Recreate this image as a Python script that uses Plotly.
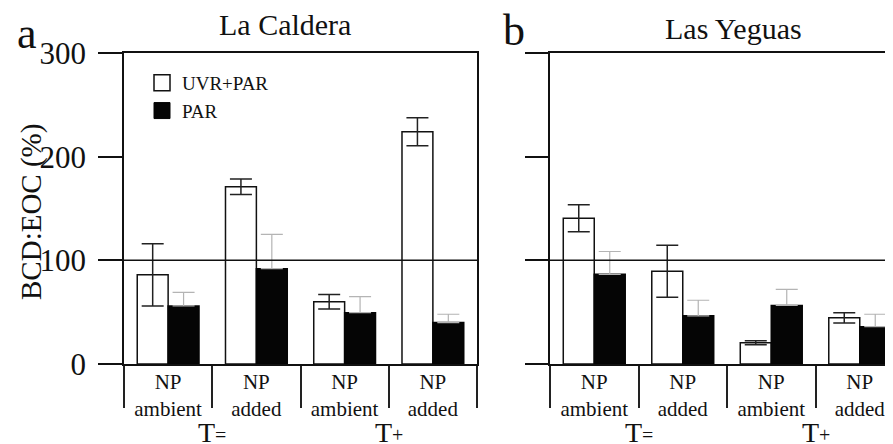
import plotly.graph_objects as go

# ---- data ----
categories = ["NP<br>ambient", "NP<br>added", "NP<br>ambient", "NP<br>added"]
cat_pos = [0, 1, 2, 3]
group_labels = ["T<span style=\"font-size:20px\">=</span>", "T<span style=\"font-size:20px\">+</span>"]
group_pos = [0.5, 2.5]
y_ticks = [0, 100, 200, 300]
series_names = ["UVR+PAR", "PAR"]

caldera_uvr = [86, 171, 60, 224]
caldera_uvr_err = [30, 7.5, 7, 13.5]
caldera_par = [56, 92, 49.5, 40]
caldera_par_err = [13, 33, 15.5, 8]

yeguas_uvr = [140.5, 89.5, 20.5, 44.5]
yeguas_uvr_err = [13, 25, 2, 5]
yeguas_par = [86.5, 46.5, 56.5, 36]
yeguas_par_err = [22, 15, 15.5, 12]

# the page body has an 8px margin: lay out in screen px and convert
OFF = 8
WF, HF = 893 - OFF, 444 - OFF


def px(x):
    return (x - OFF) / WF


def py(y):
    return 1 - (y - OFF) / HF


FONT = "Liberation Serif, Times New Roman, serif"
INK = "#111111"
WHITE_LINE = dict(color=INK, width=1.5)

fig = go.Figure()

panels = [
    ("x", "y", caldera_uvr, caldera_uvr_err, caldera_par, caldera_par_err),
    ("x2", "y2", yeguas_uvr, yeguas_uvr_err, yeguas_par, yeguas_par_err),
]
for xa, ya, uvr, uerr, par, perr in panels:
    fig.add_trace(go.Bar(
        x=cat_pos, y=uvr, name=series_names[0], xaxis=xa, yaxis=ya,
        offsetgroup="uvr", showlegend=False,
        marker=dict(color="white", line=WHITE_LINE),
        error_y=dict(type="data", array=uerr, color="#222222", thickness=1.5, width=11),
    ))
    fig.add_trace(go.Bar(
        x=cat_pos, y=par, name=series_names[1], xaxis=xa, yaxis=ya,
        offsetgroup="par", showlegend=False,
        marker=dict(color="#050505", line=dict(color="#050505", width=1.5)),
        error_y=dict(type="data", symmetric=False, array=perr, arrayminus=[0] * len(perr),
                     color="#b4b4b4", thickness=1.2, width=11),
    ))

# legend entries (square swatches)
fig.add_trace(go.Scatter(x=[None], y=[None], mode="markers", name=series_names[0],
                         marker=dict(symbol="square", size=19, color="white", line=WHITE_LINE),
                         xaxis="x", yaxis="y"))
fig.add_trace(go.Scatter(x=[None], y=[None], mode="markers", name=series_names[1],
                         marker=dict(symbol="square", size=19, color="#050505",
                                     line=dict(color="#050505", width=1)),
                         xaxis="x", yaxis="y"))

ydom = [py(364), py(53)]
xdom_a = [px(124), px(477)]
xdom_b = [px(550), 1.0]
range_a = [-0.5, 3.5]
range_b = [-0.5, -0.5 + (893 - 550) / 88.5]


def cat_axis(dom, anchor, rng):
    return dict(
        domain=dom, anchor=anchor, range=rng, tickmode="array",
        tickvals=cat_pos, ticktext=categories, ticks="", automargin=False,
        tickfont=dict(size=21, color=INK, family=FONT), ticklabelstandoff=-2,
        showline=True, linecolor=INK, linewidth=1.5, mirror=True,
        showgrid=False, zeroline=False, fixedrange=True,
        minor=dict(tickmode="array", tickvals=[-0.5, 0.5, 1.5, 2.5, 3.5],
                   ticks="outside", ticklen=42, tickwidth=1.5, tickcolor="#222222",
                   showgrid=False),
    )


def long_tick_axis(over, anchor, rng):
    return dict(
        overlaying=over, anchor=anchor, range=rng, side="bottom", automargin=False,
        tickmode="array", tickvals=[-0.5, 1.5, 3.5], ticks="outside",
        ticklen=69, tickwidth=1.5, tickcolor="#222222",
        showticklabels=False, showline=False, showgrid=False, zeroline=False,
    )


def val_axis(anchor, show_labels, ticklen, mirror):
    return dict(
        domain=ydom, anchor=anchor, range=[0, 300], tickmode="array",
        tickvals=y_ticks, ticks="outside", ticklen=ticklen, tickwidth=1.5,
        tickcolor=INK, showticklabels=show_labels, automargin=False,
        tickfont=dict(size=31, color=INK, family=FONT), ticklabelstandoff=6,
        showline=True, linecolor=INK, linewidth=1.5, mirror=mirror,
        showgrid=False, zeroline=False, fixedrange=True,
    )


fig.update_layout(
    template="none",
    width=WF, height=HF,
    margin=dict(l=0, r=0, t=0, b=0, autoexpand=False),
    paper_bgcolor="white", plot_bgcolor="white",
    font=dict(family=FONT, color=INK),
    barmode="group", bargap=0.3, bargroupgap=0,
    xaxis=cat_axis(xdom_a, "y", range_a),
    xaxis2=cat_axis(xdom_b, "y2", range_b),
    xaxis3=long_tick_axis("x", "y", range_a),
    xaxis4=long_tick_axis("x2", "y2", range_b),
    yaxis=val_axis("x", True, 24, True),
    yaxis2=val_axis("x2", False, 23, False),
    legend=dict(x=px(142), y=py(64), xanchor="left", yanchor="top",
                font=dict(size=19, family=FONT, color=INK), itemsizing="trace",
                bgcolor="rgba(0,0,0,0)", itemwidth=30, traceorder="normal",
                tracegroupgap=0),
    showlegend=True,
)

# reference line at 100 %
fig.add_shape(type="line", xref="x domain", yref="y", x0=-24 / 353, x1=1, y0=100, y1=100,
              line=dict(color=INK, width=1.5))
fig.add_shape(type="line", xref="x2 domain", yref="y2", x0=-23 / 343, x1=1, y0=100, y1=100,
              line=dict(color=INK, width=1.5))

ann = []
# group labels under the axes
for xr in ["x", "x2"]:
    for gl, gp in zip(group_labels, group_pos):
        ann.append(dict(text=gl, xref=xr, x=gp, yref="paper", y=py(415),
                        yanchor="top", xanchor="center", showarrow=False,
                        font=dict(size=28, family=FONT, color=INK)))
# panel letters and titles
ann.append(dict(text="a", xref="paper", yref="paper", x=px(15), y=py(50),
                xanchor="left", yanchor="bottom", showarrow=False, yshift=-10,
                font=dict(size=44, family=FONT, color=INK)))
ann.append(dict(text="b", xref="paper", yref="paper", x=px(501), y=py(47),
                xanchor="left", yanchor="bottom", showarrow=False, yshift=-10,
                font=dict(size=44, family=FONT, color=INK)))
ann.append(dict(text="La Caldera", xref="paper", yref="paper", x=px(285), y=py(24),
                xanchor="center", yanchor="middle", showarrow=False,
                font=dict(size=30, family=FONT, color=INK)))
ann.append(dict(text="Las Yeguas", xref="paper", yref="paper", x=px(733), y=py(29),
                xanchor="center", yanchor="middle", showarrow=False,
                font=dict(size=30, family=FONT, color=INK)))
ann.append(dict(text="BCD:EOC (%)", xref="paper", yref="paper", x=px(31), y=py(212),
                xanchor="center", yanchor="middle", textangle=-90, showarrow=False,
                font=dict(size=29, family=FONT, color=INK)))
fig.update_layout(annotations=ann)

fig.write_html("out.html")
